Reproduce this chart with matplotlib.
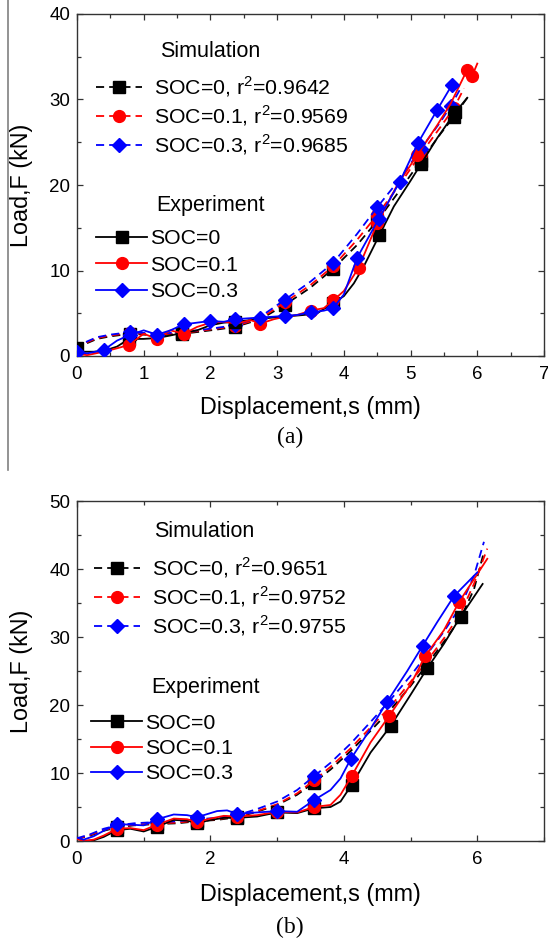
import matplotlib
matplotlib.use("Agg")
import matplotlib.pyplot as plt
from matplotlib.lines import Line2D
from matplotlib.ticker import MultipleLocator

plt.rcParams['font.family'] = ['Liberation Sans', 'DejaVu Sans']
plt.rcParams['mathtext.fontset'] = 'custom'
plt.rcParams['mathtext.rm'] = 'Liberation Sans'

# ---------------- data: panel (a) ----------------
a_exp0_x = [0.00, 0.10, 0.25, 0.40, 0.60, 0.78, 1.00, 1.20, 1.40, 1.58, 1.80, 2.00, 2.20, 2.37, 2.60,
            2.80, 3.10, 3.40, 3.60, 3.84, 4.00, 4.15, 4.30, 4.53, 4.75, 5.00, 5.16, 5.40, 5.67, 5.85]
a_exp0_y = [0.9, 0.5, 0.5, 0.6, 1.1, 2.0, 2.0, 2.1, 2.4, 2.7, 3.0, 3.6, 3.9, 4.0, 4.2,
            4.4, 4.6, 4.8, 5.0, 6.2, 7.0, 8.5, 10.5, 14.1, 17.5, 20.5, 22.5, 25.5, 28.5, 30.2]
a_exp1_x = [0.00, 0.15, 0.40, 0.60, 0.78, 1.00, 1.20, 1.40, 1.60, 1.80, 2.00, 2.20, 2.40, 2.60, 2.75, 2.95,
            3.12, 3.30, 3.50, 3.70, 3.84, 4.00, 4.22, 4.50, 4.80, 5.10, 5.40, 5.60, 5.85, 5.92, 6.00]
a_exp1_y = [0.3, 0.1, 0.5, 0.9, 1.3, 2.6, 2.0, 3.0, 2.6, 3.4, 3.9, 4.0, 3.8, 4.2, 3.8, 4.3,
            4.6, 4.8, 5.3, 5.6, 6.5, 7.6, 10.3, 15.5, 20.0, 23.5, 27.0, 29.5, 33.5, 32.7, 34.2]
a_exp3_x = [0.00, 0.15, 0.40, 0.60, 0.80, 1.00, 1.20, 1.40, 1.60, 1.80, 2.00, 2.20, 2.37, 2.55, 2.75,
            2.95, 3.12, 3.30, 3.50, 3.70, 3.84, 4.00, 4.20, 4.52, 4.84, 5.11, 5.40, 5.62]
a_exp3_y = [0.5, 0.3, 0.7, 1.8, 2.5, 3.0, 2.5, 3.0, 3.7, 3.9, 4.1, 4.0, 4.3, 4.4, 4.5,
            4.6, 4.7, 4.8, 5.1, 5.3, 5.6, 7.2, 11.5, 16.0, 20.4, 24.9, 28.8, 31.7]
a_sim0_x = [0.00, 0.15, 0.30, 0.50, 0.80, 1.00, 1.20, 1.58, 1.80, 2.10, 2.37, 2.75, 3.12, 3.50, 3.84,
            4.20, 4.50, 4.85, 5.15, 5.45, 5.65, 5.85]
a_sim0_y = [0.5, 1.5, 2.0, 2.3, 2.6, 2.5, 2.4, 2.6, 2.8, 3.1, 3.4, 4.3, 6.0, 8.0, 10.2,
            13.0, 15.8, 19.5, 22.8, 26.0, 28.0, 30.2]
a_sim1_x = [0.00, 0.15, 0.30, 0.50, 0.80, 1.00, 1.20, 1.58, 1.80, 2.10, 2.37, 2.75, 3.12, 3.50, 3.84,
            4.20, 4.50, 4.85, 5.15, 5.45, 5.65, 5.80]
a_sim1_y = [0.5, 1.6, 2.1, 2.4, 2.7, 2.6, 2.5, 2.7, 2.9, 3.2, 3.5, 4.4, 6.3, 8.3, 10.5,
            13.6, 16.5, 20.2, 23.6, 26.8, 29.0, 31.3]
a_sim3_x = [0.00, 0.15, 0.30, 0.50, 0.80, 1.00, 1.20, 1.58, 1.80, 2.10, 2.37, 2.75, 3.12, 3.50, 3.84,
            4.20, 4.50, 4.85, 5.15, 5.45, 5.60, 5.75]
a_sim3_y = [0.5, 1.7, 2.2, 2.5, 2.8, 2.7, 2.6, 2.8, 3.0, 3.3, 3.6, 4.6, 6.6, 8.7, 10.9,
            14.3, 17.4, 20.8, 24.2, 27.4, 29.2, 31.3]

# ---------------- data: panel (b) ----------------
b_exp0_x = [0.00, 0.10, 0.25, 0.40, 0.60, 0.80, 1.00, 1.20, 1.45, 1.65, 1.80, 2.00, 2.20, 2.40, 2.70,
            3.00, 3.30, 3.55, 3.80, 3.95, 4.12, 4.40, 4.70, 5.00, 5.25, 5.50, 5.75, 6.08]
b_exp0_y = [0.4, 0.0, 0.1, 0.6, 1.6, 1.8, 1.4, 2.1, 3.1, 3.0, 2.6, 3.1, 3.4, 3.4, 3.6,
            4.2, 4.1, 4.8, 5.0, 5.8, 8.3, 13.0, 16.9, 21.5, 25.4, 29.0, 33.0, 37.8]
b_exp1_x = [0.00, 0.10, 0.25, 0.40, 0.60, 0.80, 1.00, 1.20, 1.45, 1.65, 1.80, 2.00, 2.20, 2.40, 2.70,
            3.00, 3.30, 3.55, 3.80, 3.95, 4.12, 4.40, 4.68, 5.00, 5.22, 5.50, 5.73, 6.15]
b_exp1_y = [0.3, 0.0, 0.2, 0.8, 1.8, 1.9, 1.6, 2.4, 3.3, 3.2, 2.8, 3.3, 3.7, 3.6, 3.8,
            4.3, 4.2, 5.0, 5.3, 6.8, 9.6, 14.5, 18.4, 23.0, 27.2, 31.0, 35.2, 41.5]
b_exp3_x = [0.00, 0.10, 0.25, 0.40, 0.60, 0.80, 1.00, 1.20, 1.45, 1.65, 1.80, 2.10, 2.25, 2.40, 2.70,
            3.00, 3.30, 3.55, 3.80, 3.95, 4.10, 4.40, 4.65, 4.95, 5.18, 5.40, 5.65, 6.00]
b_exp3_y = [0.5, 0.2, 0.7, 1.5, 2.5, 2.4, 2.3, 3.2, 3.9, 3.8, 3.5, 4.4, 4.5, 4.0, 4.2,
            4.4, 4.3, 6.0, 7.5, 9.2, 12.0, 16.5, 20.5, 25.0, 28.7, 32.2, 36.0, 39.5]
b_sim0_x = [0.00, 0.20, 0.40, 0.60, 0.85, 1.20, 1.50, 1.80, 2.10, 2.40, 2.70, 3.00, 3.30, 3.55, 3.80,
            4.10, 4.40, 4.70, 5.00, 5.25, 5.50, 5.75, 5.95, 6.10]
b_sim0_y = [0.3, 0.8, 1.5, 2.0, 2.3, 2.5, 2.6, 2.9, 3.1, 3.5, 4.3, 5.3, 6.8, 8.6, 10.5,
            13.2, 16.2, 19.3, 22.8, 26.0, 29.3, 32.8, 37.0, 42.5]
b_sim1_x = [0.00, 0.20, 0.40, 0.60, 0.85, 1.20, 1.50, 1.80, 2.10, 2.40, 2.70, 3.00, 3.30, 3.55, 3.80,
            4.10, 4.40, 4.70, 5.00, 5.25, 5.50, 5.75, 5.95, 6.15]
b_sim1_y = [0.3, 0.9, 1.6, 2.1, 2.4, 2.6, 2.7, 3.0, 3.2, 3.6, 4.4, 5.4, 7.0, 8.9, 10.9,
            13.6, 16.7, 19.8, 23.4, 26.5, 29.8, 33.5, 37.8, 43.0]
b_sim3_x = [0.00, 0.20, 0.40, 0.60, 0.85, 1.20, 1.50, 1.80, 2.10, 2.40, 2.70, 3.00, 3.30, 3.55, 3.80,
            4.10, 4.40, 4.70, 5.00, 5.25, 5.50, 5.75, 5.95, 6.10]
b_sim3_y = [0.4, 1.0, 1.8, 2.3, 2.6, 2.8, 2.9, 3.2, 3.4, 3.8, 4.7, 5.8, 7.5, 9.5, 11.5,
            14.3, 17.5, 20.8, 24.3, 27.5, 30.8, 34.5, 39.0, 44.0]

sim_labels_a = ["SOC=0, r$^\\mathregular{2}$=0.9642", "SOC=0.1, r$^\\mathregular{2}$=0.9569",
                "SOC=0.3, r$^\\mathregular{2}$=0.9685"]
sim_labels_b = ["SOC=0, r$^\\mathregular{2}$=0.9651", "SOC=0.1, r$^\\mathregular{2}$=0.9752",
                "SOC=0.3, r$^\\mathregular{2}$=0.9755"]
exp_labels = ["SOC=0", "SOC=0.1", "SOC=0.3"]

# ---------------- styling ----------------
colors = ['#000000', '#ff0000', '#0000ff']
markers = ['s', 'o', 'D']
msizes = [8.5, 8.5, 7.0]
LW = 1.3
DASH = (0, (4.5, 2.8))
LEG_FS = 15.3
TITLE_FS = 15.5

fig = plt.figure(figsize=(5.48, 9.43), dpi=100)
W, H = 548.0, 943.0
ax1 = fig.add_axes([77 / W, 1 - 356 / H, 467 / W, 342 / H])
ax2 = fig.add_axes([77 / W, 1 - 841 / H, 467 / W, 340 / H])

# decorative vertical rule at the left of the upper panel
fig.add_artist(Line2D([8 / W, 8 / W], [1.0, 1 - 470 / H], transform=fig.transFigure,
                      color='#808080', lw=1.2))


def draw(ax, x, y, i, ls, mk):
    ax.plot(x, y, color=colors[i], ls=ls, lw=LW, marker=markers[i], markevery=mk,
            ms=msizes[i], mfc=colors[i], mec=colors[i], zorder=3 if ls == '-' else 2)


# panel (a)
a_sim = [(a_sim0_x, a_sim0_y), (a_sim1_x, a_sim1_y), (a_sim3_x, a_sim3_y)]
a_exp = [(a_exp0_x, a_exp0_y), (a_exp1_x, a_exp1_y), (a_exp3_x, a_exp3_y)]
a_sim_mk = [4, 7, 10, 12, 14, 16, 18, 20]
a_exp_mk = [[0, 5, 9, 13, 19, 23, 26, 28],
            [4, 6, 8, 14, 18, 20, 22, 23, 25, 28, 29],
            [0, 2, 4, 6, 8, 10, 12, 14, 16, 18, 20, 22, 23, 24, 25, 26, 27]]
for i, (x, y) in enumerate(a_sim):
    draw(ax1, x, y, i, DASH, a_sim_mk)
for i, (x, y) in enumerate(a_exp):
    draw(ax1, x, y, i, '-', a_exp_mk[i])

# panel (b)
b_sim = [(b_sim0_x, b_sim0_y), (b_sim1_x, b_sim1_y), (b_sim3_x, b_sim3_y)]
b_exp = [(b_exp0_x, b_exp0_y), (b_exp1_x, b_exp1_y), (b_exp3_x, b_exp3_y)]
b_sim_mk = [3, 5, 7, 9, 13]
b_exp_mk = [4, 7, 10, 13, 15, 17, 20, 22, 24, 26]
for i, (x, y) in enumerate(b_sim):
    draw(ax2, x, y, i, DASH, b_sim_mk)
for i, (x, y) in enumerate(b_exp):
    draw(ax2, x, y, i, '-', b_exp_mk)


def style(ax, ymax, xmaj, xmin, xlabelpad):
    ax.set_xlim(0, 7)
    ax.set_ylim(0, ymax)
    ax.xaxis.set_major_locator(MultipleLocator(xmaj))
    ax.xaxis.set_minor_locator(MultipleLocator(xmin))
    ax.yaxis.set_major_locator(MultipleLocator(10))
    ax.yaxis.set_minor_locator(MultipleLocator(5))
    ax.tick_params(which='both', direction='in', top=True, right=True, labelsize=13.5,
                   color='#333333', width=0.9)
    ax.tick_params(axis='x', which='both', pad=7)
    ax.tick_params(axis='y', which='both', pad=5)
    ax.tick_params(which='major', length=4.5)
    ax.tick_params(which='minor', length=3)
    for s in ax.spines.values():
        s.set_color('#333333')
        s.set_linewidth(1.0)
    ax.set_xlabel("Displacement,s (mm)", fontsize=16.8, labelpad=xlabelpad)
    ax.set_ylabel("Load,F (kN)", fontsize=16.8)
    ax.yaxis.set_label_coords(-0.094, 0.5)


style(ax1, 40, 1, 0.5, 9.5)
style(ax2, 50, 2, 1, 11)


def legends(ax, sim_labels, sim_anchor, exp_anchor, exp_spacing, sim_title_xy, exp_title_xy):
    sim_h = [Line2D([], [], color=colors[i], ls=DASH, lw=LW, marker=markers[i],
                    ms=msizes[i], mfc=colors[i], mec=colors[i]) for i in range(3)]
    exp_h = [Line2D([], [], color=colors[i], ls='-', lw=LW, marker=markers[i],
                    ms=msizes[i], mfc=colors[i], mec=colors[i]) for i in range(3)]
    l1 = ax.legend(sim_h, sim_labels, loc='upper left', bbox_to_anchor=sim_anchor,
                   frameon=False, fontsize=LEG_FS, handlelength=2.15, handletextpad=0.55,
                   labelspacing=0.2, borderpad=0, borderaxespad=0, numpoints=1)
    ax.add_artist(l1)
    ax.legend(exp_h, exp_labels, loc='upper left', bbox_to_anchor=exp_anchor,
              frameon=False, fontsize=LEG_FS, handlelength=2.4, handletextpad=0.15,
              labelspacing=exp_spacing, borderpad=0, borderaxespad=0, numpoints=1)
    ax.text(*sim_title_xy, "Simulation", transform=ax.transAxes, ha='center', va='center',
            fontsize=TITLE_FS)
    ax.text(*exp_title_xy, "Experiment", transform=ax.transAxes, ha='center', va='center',
            fontsize=TITLE_FS)


legends(ax1, sim_labels_a, (0.041, 0.822), (0.041, 0.371), 0.35, (0.285, 0.889), (0.285, 0.4415))
legends(ax2, sim_labels_b, (0.037, 0.839), (0.030, 0.374), 0.29, (0.273, 0.909), (0.276, 0.45))

fig.text(290 / W, 1 - 437 / H, "(a)", ha='center', va='center', fontsize=17,
         family='Liberation Serif')
fig.text(290 / W, 1 - 927 / H, "(b)", ha='center', va='center', fontsize=17,
         family='Liberation Serif')

fig.savefig("out.png", dpi=100)
